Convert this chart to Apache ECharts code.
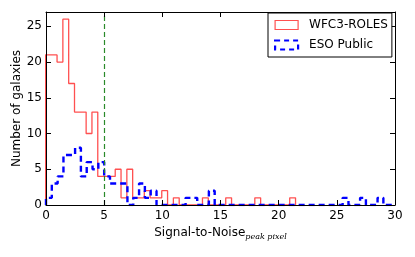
<!DOCTYPE html>
<html>
<head>
<meta charset="utf-8">
<script src="https://cdn.jsdelivr.net/npm/echarts@6/dist/echarts.min.js"></script>
<style>
html,body{margin:0;padding:0;background:#fff;}
#chart{width:415px;height:257px;}
</style>
</head>
<body>
<div id="chart"></div>
<script>
// ---- data ----
const binWidth = 0.5;
const redFirstEdge = -0.05;
const redCounts = [21,21,20,26,17,13,13,10,13,4,4,4,5,1,5,1,1,2,1,1,2,0,1,0,0,0,0,1,0,0,0,1,0,0,0,0,1,0,0,0,0,0,1];
const blueFirstEdge = 0;
const blueCounts = [1,3,4,7,7,8,4,6,5,6,4,3,3,3,0,1,3,1,2,0,0,0,0,0,1,1,0,0,2,0,0,0,0,0,0,0,0,0,0,0,0,0,0,0,0,0,0,0,0,0,0,1,0,0,1,0,0,1,0,0];
const xTicks = [0,5,10,15,20,25,30];
const yTicks = [0,5,10,15,20,25];
const snrCut = 5;
const seriesNames = ['WFC3-ROLES','ESO Public'];

function stepData(first, counts){
  const r = v => Math.round(v*1000)/1000;
  const pts = [[r(first),0]];
  counts.forEach((c,i)=>pts.push([r(first+i*binWidth), c]));
  const last = r(first+counts.length*binWidth);
  pts.push([last, counts[counts.length-1]]);
  pts.push([last, 0]);
  return pts;
}

const font = 'DejaVu Sans';
const chart = echarts.init(document.getElementById('chart'), null, {renderer:'canvas'});
const axisCommon = {
  min: 0, z: 5,
  splitLine:{show:false},
  axisLine:{show:true, onZero:false, lineStyle:{color:'#000', width:1}},
  axisTick:{show:true, inside:true, length:5, lineStyle:{color:'#000'}},
};
chart.setOption({
  animation:false,
  backgroundColor:'#fff',
  grid:{left:46, right:20, top:12, bottom:52, containLabel:false, outerBoundsMode:'none'},
  legend:{
    orient:'vertical', left:268, top:13, z:10,
    backgroundColor:'#fff', borderColor:'#000', borderWidth:1,
    padding:[6,4,6,6], itemGap:8, itemWidth:23, itemHeight:9,
    textStyle:{fontFamily:font, fontSize:12, color:'#000', padding:[0,0,0,6]},
    data:[
      {name:seriesNames[0], icon:'rect', itemStyle:{color:'rgba(0,0,0,0)', borderColor:'#ff5050', borderWidth:1.2}},
      {name:seriesNames[1], icon:'rect', itemStyle:{color:'rgba(0,0,0,0)', borderColor:'#0000ff', borderWidth:2.2, borderType:[5,4]}}
    ]
  },
  xAxis:[
    Object.assign({}, axisCommon, {type:'value', max:30, interval:5, position:'bottom',
      axisLabel:{color:'#000', fontFamily:font, fontSize:12, margin:5},
      name:'{a|Signal-to-Noise}{b|peak pixel}', nameLocation:'middle', nameGap:20, nameMoveOverlap:false,
      nameTextStyle:{rich:{
        a:{fontFamily:font, fontSize:12, color:'#000'},
        b:{fontFamily:'DejaVu Serif', fontStyle:'italic', fontSize:8, color:'#000', padding:[8,0,0,0]}
      }}
    }),
    Object.assign({}, axisCommon, {type:'value', max:30, interval:5, position:'top', axisLabel:{show:false}})
  ],
  yAxis:[
    Object.assign({}, axisCommon, {type:'value', max:27, interval:5, position:'left',
      axisLabel:{color:'#000', fontFamily:font, fontSize:12, margin:4, showMaxLabel:false},
      name:'Number of galaxies', nameLocation:'middle', nameGap:23, nameMoveOverlap:false,
      nameTextStyle:{fontFamily:font, fontSize:12, color:'#000'}
    }),
    Object.assign({}, axisCommon, {type:'value', max:27, interval:5, position:'right', axisLabel:{show:false}})
  ],
  series:[
    {name:seriesNames[0], type:'line', step:'end', showSymbol:false, symbol:'none',
     data:stepData(redFirstEdge, redCounts), clip:true,
     lineStyle:{color:'#ff5050', width:1.3}, itemStyle:{color:'#ff5050'}},
    {name:seriesNames[1], type:'line', step:'end', showSymbol:false, symbol:'none',
     data:stepData(blueFirstEdge, blueCounts), clip:true,
     lineStyle:{color:'#0000ff', width:2.4, type:[6,4]}, itemStyle:{color:'#0000ff'},
     markLine:{silent:true, symbol:'none', label:{show:false},
       lineStyle:{color:'#2a8a2a', type:[5,3], width:1.2},
       data:[{xAxis:snrCut}]}}
  ]
});
</script>
</body>
</html>
